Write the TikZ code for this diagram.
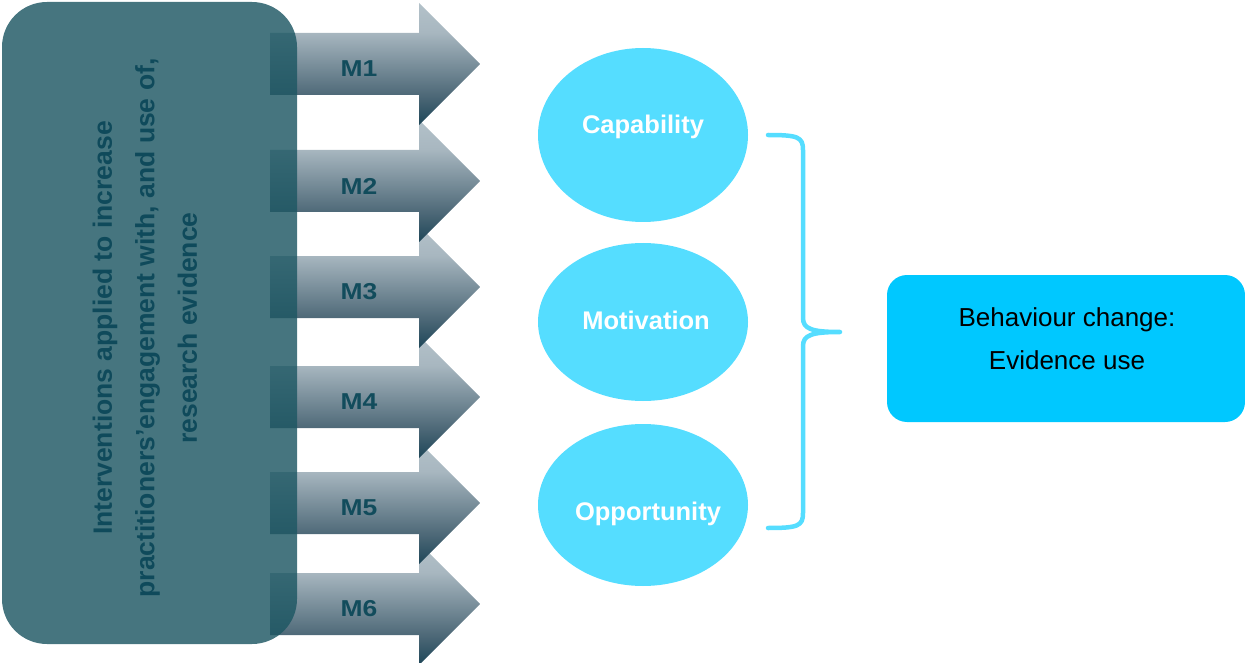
\documentclass[tikz,border=0pt]{standalone}
\usepackage{fontspec}
\setmainfont{Liberation Sans}
\usetikzlibrary{shapes.geometric}
\usetikzlibrary{positioning}

\definecolor{boxteal}{HTML}{1D5763}
\definecolor{boxtext}{HTML}{0F4A5B}
\definecolor{arrtop}{HTML}{B3C1C9}
\definecolor{arrhigh}{HTML}{A8B7C0}
\definecolor{arrlow}{HTML}{4D6877}
\definecolor{arrbot}{HTML}{1E4658}
\definecolor{mtext}{HTML}{124C5C}
\definecolor{comcyan}{HTML}{55DDFF}
\definecolor{outcyan}{HTML}{00C8FF}

\pgfdeclareverticalshading{mshading}{100bp}{color(0bp)=(arrbot); color(25bp)=(arrbot);
    color(37bp)=(arrlow); color(63bp)=(arrhigh); color(75bp)=(arrtop); color(100bp)=(arrtop)}

\begin{document}
\begin{tikzpicture}[x=1pt,y=-1pt,
    mshade/.style={shading=mshading},
    mlabel/.style={text=mtext,font=\fontsize{23}{26}\selectfont\bfseries,inner sep=0},
    combox/.style={ellipse,fill=comcyan,minimum width=210,minimum height=#1,inner sep=0},
    comtext/.style={text=white,font=\fontsize{25.5}{30}\selectfont\bfseries}]
    \useasboundingbox (0,0) rectangle (1245,663);

    \foreach \y/\lab/\i in {604/M6/6,503/M5/5,397/M4/4,287/M3/3,181/M2/2,64/M1/1} {
        \shade[mshade] (270,\y-31) -- (419,\y-31) -- (419,\y-61) -- (480,\y)
            -- (419,\y+61) -- (419,\y+31) -- (270,\y+31) -- cycle;
        \node[mlabel] (m\i) at (359,\y+5) {\scalebox{1.15}[1]{\lab}};
    }

    \node[fill=boxteal,fill opacity=0.82,rounded corners=45,minimum width=295,minimum height=642,inner sep=0] (ivn) at (149.5,323) {};
    \node[rotate=90,align=center,text=boxtext,font=\fontsize{26.5}{42.5}\selectfont\bfseries] (ivntxt) at (145,328)
        {Interventions applied to increase\\practitioners’engagement with, and use of,\\research evidence};

    \node[combox=174,label={[comtext,yshift=8]center:Capability}] (cap) at (643,135) {};
    \node[combox=158,label={[comtext,yshift=2,xshift=3]center:Motivation}] (mot) at (643,322) {};
    \node[combox=162,label={[comtext,yshift=-9,xshift=5]center:Opportunity}] (opp) at (643,505) {};

    \draw[comcyan,line width=4.5,line cap=round,line join=round] (768,135) .. controls (798,135) and (803,137) .. (803,150)
        -- (803,318) .. controls (803,329) and (812,332) .. (840,332)
        .. controls (812,332) and (803,335) .. (803,346)
        -- (803,513) .. controls (803,526) and (798,528) .. (768,528);

    \node[fill=outcyan,rounded corners=20,minimum width=358,minimum height=147,inner sep=0] (chg) at (1066,348.5) {};
    \node[align=center,font=\fontsize{26}{43}\selectfont] (chgtxt) at (1067,339) {Behaviour change:\\Evidence use};
\end{tikzpicture}
\end{document}
